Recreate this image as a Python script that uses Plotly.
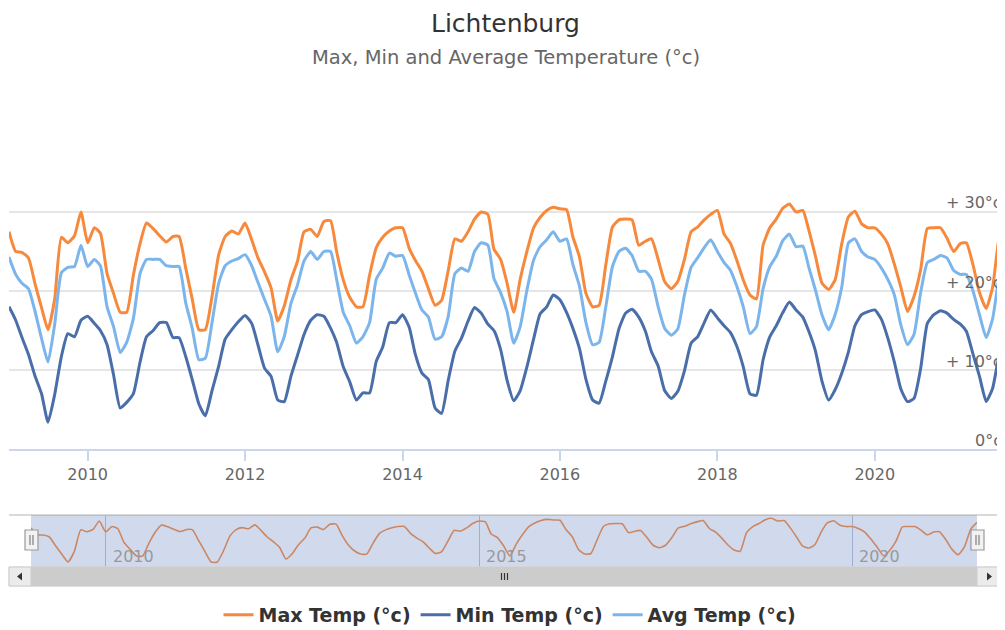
import pandas as pd
import plotly.graph_objects as go

# ---------------- data (monthly, Jan 2009 .. Sep 2021) ----------------
start_month = "2009-01-01"
max_temp = [
    27.5, 25.0, 24.9, 24.2, 21.0, 17.9, 15.1, 19.0, 26.8, 26.1, 27.0, 30.0,
    26.1, 28.0, 27.3, 22.2, 19.7, 17.3, 17.3, 22.0, 26.0, 28.6, 27.9, 27.0,
    26.2, 26.9, 26.9, 22.9, 19.0, 15.1, 15.1, 19.3, 24.6, 26.9, 27.6, 27.2,
    28.6, 26.5, 24.2, 22.4, 20.4, 16.2, 18.1, 21.4, 23.8, 27.5, 27.8, 26.9,
    28.8, 28.9, 25.0, 21.4, 19.2, 18.0, 18.0, 22.0, 25.5, 26.8, 27.6, 28.0,
    28.0, 25.4, 23.9, 22.5, 20.3, 18.2, 18.8, 22.6, 26.6, 26.3, 27.5, 29.1,
    30.0, 29.7, 25.3, 24.0, 21.0, 17.3, 21.5, 25.0, 28.0, 29.3, 30.2, 30.6,
    30.4, 30.3, 26.9, 24.3, 19.7, 18.0, 18.2, 23.3, 28.1, 29.0, 29.1, 29.0,
    25.8, 26.3, 26.6, 24.0, 21.2, 20.3, 21.2, 24.0, 27.5, 28.1, 29.0, 29.7,
    30.2, 27.2, 26.1, 23.9, 21.4, 19.5, 19.0, 25.8, 28.0, 29.1, 30.5, 31.0,
    30.0, 30.2, 27.7, 24.4, 21.0, 20.2, 21.4, 26.0, 29.4, 30.1, 28.5, 28.0,
    28.0, 27.2, 26.0, 23.4, 20.5, 17.4, 19.3, 22.7, 27.9, 28.0, 28.0, 26.7,
    25.0, 26.0, 26.1, 23.3, 19.8, 17.8, 20.5, 27.0, 29.5,
]
min_temp = [
    18.0, 16.3, 14.2, 12.0, 9.3, 7.0, 3.4, 6.9, 11.7, 14.6, 14.2, 16.3,
    16.8, 15.9, 15.0, 13.2, 9.4, 5.2, 5.9, 7.0, 11.0, 14.2, 15.0, 16.0,
    16.0, 14.1, 14.1, 11.7, 8.8, 5.7, 4.2, 7.4, 10.5, 13.9, 15.1, 16.1,
    16.9, 15.9, 13.2, 10.2, 9.2, 6.2, 6.0, 9.2, 11.9, 14.5, 16.3, 17.0,
    16.8, 15.3, 13.5, 10.4, 8.5, 6.2, 7.1, 7.1, 11.1, 12.9, 16.0, 16.0,
    17.0, 15.4, 12.0, 9.6, 8.8, 5.2, 4.5, 8.7, 12.4, 14.0, 16.2, 17.9,
    17.2, 15.8, 15.0, 12.6, 8.7, 6.1, 7.4, 10.4, 13.9, 17.1, 18.0, 19.5,
    18.9, 17.3, 15.3, 12.7, 8.8, 6.2, 5.8, 8.6, 11.7, 15.2, 17.2, 17.7,
    16.7, 14.9, 12.3, 10.5, 7.4, 6.4, 7.3, 9.9, 13.4, 14.2, 16.0, 17.6,
    16.6, 15.6, 14.8, 13.0, 10.4, 7.0, 6.8, 11.3, 14.2, 15.6, 17.3, 18.6,
    17.6, 16.7, 14.9, 12.4, 8.6, 6.2, 7.5, 9.6, 12.3, 15.6, 17.0, 17.4,
    17.6, 16.4, 14.1, 11.0, 7.6, 6.0, 6.4, 10.2, 15.9, 17.0, 17.5, 17.2,
    16.4, 15.8, 14.9, 12.0, 9.2, 6.0, 7.7, 12.0, 14.5,
]
avg_temp = [
    24.3, 22.1, 21.0, 20.3, 17.5, 14.0, 11.0, 15.8, 22.3, 23.0, 23.1, 25.8,
    23.1, 24.0, 23.2, 18.0, 15.5, 12.2, 13.5, 16.5, 22.2, 24.0, 24.0, 24.0,
    23.2, 23.1, 23.1, 18.5, 15.3, 11.3, 11.5, 16.0, 21.0, 23.2, 23.8, 24.1,
    24.6, 23.2, 21.1, 18.9, 16.8, 12.3, 14.2, 18.4, 20.8, 23.8, 25.0, 24.0,
    25.0, 25.0, 21.5, 17.3, 15.6, 13.4, 14.2, 16.0, 21.5, 22.9, 24.8, 24.4,
    24.5, 22.0, 19.8, 17.6, 16.7, 13.9, 14.2, 16.8, 22.2, 22.9, 22.5, 25.0,
    26.1, 25.8, 21.6, 19.8, 17.4, 13.4, 15.5, 20.1, 23.9, 25.6, 26.5, 27.5,
    26.3, 26.6, 23.4, 20.6, 16.0, 13.2, 13.5, 18.0, 23.1, 25.0, 25.4, 24.5,
    22.5, 22.5, 21.5, 18.0, 15.3, 14.4, 15.2, 19.5, 23.0, 24.2, 25.5, 26.5,
    25.0, 23.6, 22.7, 20.6, 18.0, 14.6, 15.5, 20.3, 23.1, 24.4, 26.4, 27.2,
    25.6, 25.7, 23.0, 20.1, 17.0, 15.1, 17.0, 20.5, 26.1, 26.6, 25.0, 24.3,
    24.0, 22.9, 21.5, 19.5, 15.7, 13.2, 14.5, 19.8, 23.6, 24.0, 24.5, 24.2,
    22.6, 22.1, 22.1, 20.0, 17.0, 14.1, 16.5, 22.0, 25.0,
]
series_names = ["Max Temp (°c)", "Min Temp (°c)", "Avg Temp (°c)"]
y_tick_values = [0, 10, 20, 30]
y_tick_labels = ["0°c", "+ 10°c", "+ 20°c", "+ 30°c"]
nav_tick_years = ["2010-01-01", "2015-01-01", "2020-01-01"]
nav_tick_labels = ["2010", "2015", "2020"]
title_text = "Lichtenburg"
subtitle_text = "Max, Min and Average Temperature (°c)"

dates = pd.date_range(start_month, periods=len(max_temp), freq="MS")

# ---------------- styling ----------------
FONT = "DejaVu Sans"
C_MAX = "#f7893c"
C_MIN = "#4a6ea9"
C_AVG = "#7cb5ec"
W, H = 1005, 630
OFF = 8                    # page body margin of the html page
PLOT_L, PLOT_R = 9, 1006   # plot area edges in screen pixels
ML = PLOT_L - OFF
MR = W - (PLOT_R - OFF)


def px(sx):
    return (sx - PLOT_L) / (PLOT_R - PLOT_L)


def py(sy):
    return 1 - (sy - OFF) / H


fig = go.Figure()
for name, vals, col in zip(series_names, [max_temp, min_temp, avg_temp], [C_MAX, C_MIN, C_AVG]):
    fig.add_trace(go.Scatter(
        x=dates, y=vals, mode="lines", name="<b>" + name + "</b>",
        line=dict(color=col, width=3, shape="spline", smoothing=0.5),
        xaxis="x", yaxis="y", hoverinfo="x+y",
    ))

# navigator series
fig.add_trace(go.Scatter(
    x=dates, y=max_temp, mode="lines", showlegend=False,
    line=dict(color=C_MAX, width=1.6, shape="spline", smoothing=0.5),
    xaxis="x2", yaxis="y2", hoverinfo="skip",
))

x_range = [dates[0].strftime("%Y-%m-%d"), dates[-1].strftime("%Y-%m-%d")]

fig.update_layout(
    width=W, height=H,
    margin=dict(l=ML, r=MR, t=0, b=0),
    paper_bgcolor="white", plot_bgcolor="rgba(0,0,0,0)",
    font=dict(family=FONT, color="#666666"),
    xaxis=dict(
        domain=[0, 1], range=x_range, type="date",
        tick0="2010-01-01", dtick="M24", tickformat="%Y",
        showgrid=False, showline=True, linecolor="#ccd6eb", linewidth=2,
        ticks="outside", ticklen=10, tickcolor="#ccd6eb", tickwidth=1.5,
        tickfont=dict(family=FONT, size=16, color="#666666"),
        anchor="y", zeroline=False, fixedrange=True,
    ),
    yaxis=dict(
        domain=[py(449), py(133)], range=[0, 40],
        tickvals=[0, 10, 20, 30, 40], showticklabels=False,
        showgrid=True, gridcolor="#e6e6e6", gridwidth=1.5,
        zeroline=False, showline=False, anchor="x", fixedrange=True,
    ),
    xaxis2=dict(
        domain=[px(31), px(977)], range=x_range, type="date",
        tickvals=nav_tick_years, showticklabels=False,
        showgrid=True, gridcolor="#b9bfd3", gridwidth=1,
        showline=False, zeroline=False, anchor="y2", fixedrange=True,
    ),
    yaxis2=dict(
        domain=[py(567), py(515)], range=[13.3, 32.2],
        showticklabels=False, showgrid=False, zeroline=False,
        showline=False, anchor="x2", fixedrange=True,
    ),
    legend=dict(
        orientation="h", x=px(510), xanchor="center", y=py(615), yanchor="middle",
        font=dict(family=FONT, size=19, color="#333333"),
        itemwidth=30, bgcolor="rgba(0,0,0,0)",
    ),
    hovermode=False,
)

annotations = [
    dict(text=title_text, xref="paper", yref="paper", x=px(505.5), y=1,
         xanchor="center", yanchor="top", showarrow=False, borderpad=0,
         font=dict(family=FONT, size=25, color="#333333")),
    dict(text=subtitle_text, xref="paper", yref="paper", x=px(505.5), y=py(58),
         xanchor="center", yanchor="middle", showarrow=False,
         font=dict(family=FONT, size=19.5, color="#666666")),
]
for v, lab in zip(y_tick_values, y_tick_labels):
    annotations.append(dict(
        text=lab, xref="paper", yref="y", x=px(1004), y=v, yshift=9,
        xanchor="right", yanchor="middle", showarrow=False,
        font=dict(family=FONT, size=16, color="#666666")))
for d, lab in zip(nav_tick_years, nav_tick_labels):
    annotations.append(dict(
        text=lab, xref="x2", yref="paper", x=d, y=py(556), xshift=5,
        xanchor="left", yanchor="middle", showarrow=False,
        font=dict(family=FONT, size=16, color="#999999")))
fig.update_layout(annotations=annotations)

shapes = []
# navigator outline + mask
shapes.append(dict(type="line", xref="paper", yref="paper", x0=px(9), x1=px(1006),
                   y0=py(515), y1=py(515), line=dict(color="#cccccc", width=1.5)))
shapes.append(dict(type="rect", xref="paper", yref="paper", x0=px(31), x1=px(977),
                   y0=py(567), y1=py(515), fillcolor="rgba(102,133,194,0.3)",
                   line=dict(width=0), layer="above"))
# scrollbar
shapes.append(dict(type="rect", xref="paper", yref="paper", x0=px(9), x1=px(1001),
                   y0=py(586), y1=py(567), fillcolor="#f2f2f2",
                   line=dict(color="#e0e0e0", width=1), layer="above"))
shapes.append(dict(type="rect", xref="paper", yref="paper", x0=px(31), x1=px(977),
                   y0=py(586), y1=py(567), fillcolor="#cccccc",
                   line=dict(color="#cccccc", width=1), layer="above"))
for a, b in [(9, 31), (977, 1001)]:
    shapes.append(dict(type="rect", xref="paper", yref="paper", x0=px(a), x1=px(b),
                       y0=py(586), y1=py(567), fillcolor="#ebebeb",
                       line=dict(color="#cccccc", width=1), layer="above"))
# arrows
shapes.append(dict(type="path", xref="paper", yref="paper",
                   path=f"M{px(17)},{py(576.5)} L{px(22)},{py(572.5)} L{px(22)},{py(580.5)} Z",
                   fillcolor="#333333", line=dict(width=0), layer="above"))
shapes.append(dict(type="path", xref="paper", yref="paper",
                   path=f"M{px(992)},{py(576.5)} L{px(987)},{py(572.5)} L{px(987)},{py(580.5)} Z",
                   fillcolor="#333333", line=dict(width=0), layer="above"))
# grip
for gx in [501.5, 504.5, 507.5]:
    shapes.append(dict(type="line", xref="paper", yref="paper", x0=px(gx), x1=px(gx),
                       y0=py(573), y1=py(580), line=dict(color="#333333", width=1.2),
                       layer="above"))
# handles
for a in [25, 971]:
    shapes.append(dict(type="rect", xref="paper", yref="paper", x0=px(a), x1=px(a + 13),
                       y0=py(550), y1=py(530), fillcolor="#f2f2f2",
                       line=dict(color="#999999", width=1.2), layer="above"))
    for off in [5, 8]:
        shapes.append(dict(type="line", xref="paper", yref="paper", x0=px(a + off), x1=px(a + off),
                           y0=py(535), y1=py(545), line=dict(color="#666666", width=1),
                           layer="above"))
fig.update_layout(shapes=shapes)

fig.write_html("out.html", config={"displayModeBar": False})
